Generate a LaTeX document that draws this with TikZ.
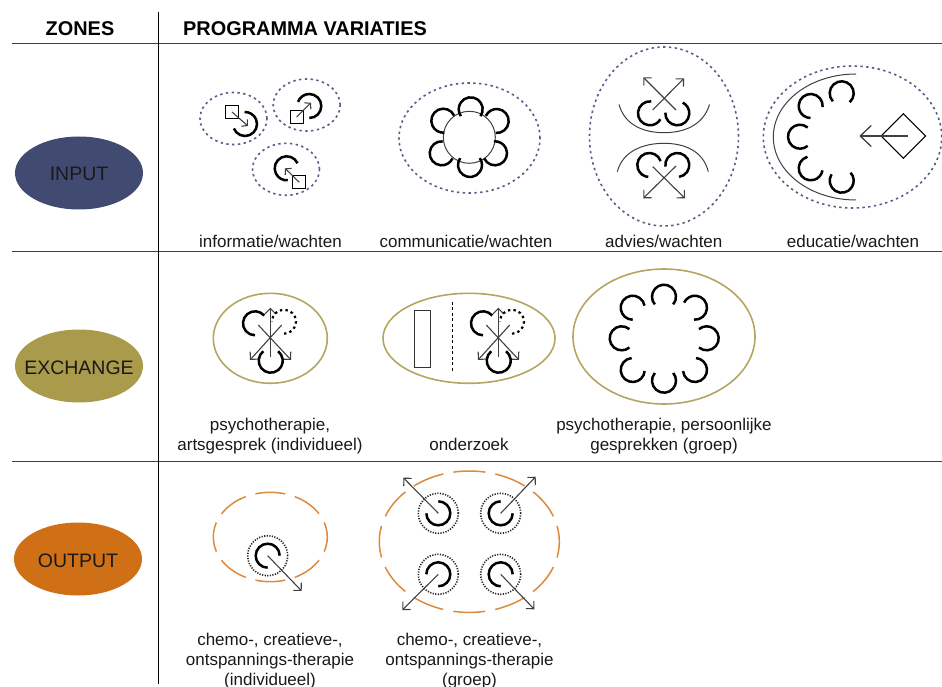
\documentclass[tikz,border=0pt]{standalone}
\usepackage{xcolor}
\usepackage{fontspec}
\setmainfont{Liberation Sans}
\usetikzlibrary{arrows.meta, shapes.geometric}

\definecolor{inputblue}{HTML}{414A70}
\definecolor{exchgold}{HTML}{AA9A4C}
\definecolor{outorange}{HTML}{CF7016}
\definecolor{dotblue}{HTML}{565D88}
\definecolor{linegold}{HTML}{B5A562}
\definecolor{lineorange}{HTML}{DC8A3E}

% open circle with a gap: centre x, y, gap direction, half gap
\newcommand\person[5][personarc]{
  \draw[#1] (#2,-#3) ++({#4+#5}:12pt) arc[start angle={#4+#5}, delta angle={360-2*(#5)}, radius=12pt];
}
% the same inside a dotted ring, with an arrow out of the centre
\newcommand\ringperson[6]{
  \draw[ringline] (#1,-#2) circle[radius=20pt];
  \person{#1}{#2}{#3}{#4}
  \draw[arrow] (#1,-#2) -- (#5,-#6);
}
% square with an arrow towards a person
\newcommand\squarearrow[4]{
  \node[infosquare] at (#1,-#2) {};
  \draw[arrow, >={Straight Barb[length=4pt,width=9pt]}] (#1,-#2) -- (#3,-#4);
}

\begin{document}
\begin{tikzpicture}[
  x=1pt, y=1pt,
  font=\fontsize{17}{20}\selectfont,
  zone/.style={ellipse, inner xsep=-15pt, inner ysep=0pt, minimum width=128pt, minimum height=73pt, text height=16pt, text depth=0pt, text=black!90, font=\fontsize{19.5}{22}\selectfont},
  head/.style={inner sep=0pt, anchor=base, font=\fontsize{19.9}{22}\selectfont\bfseries},
  caption/.style={inner sep=0pt, align=center, anchor=base, text=black!90},
  rule/.style={line width=0.9pt, black!75},
  waitline/.style={dotblue, line width=1.6pt, dash pattern=on 2.4pt off 3.4pt},
  exchline/.style={linegold, line width=1.6pt},
  outline/.style={lineorange, line width=1.5pt},
  personarc/.style={line width=2.5pt, black},
  persondot/.style={line width=2.2pt, black, dash pattern=on 2.4pt off 3.2pt},
  ringline/.style={line width=1.6pt, black!85, dash pattern=on 1.2pt off 1.4pt},
  arrow/.style={->, >={Straight Barb[length=5.5pt,width=11pt]}, line width=1.1pt, black!75},
  infosquare/.style={draw, line width=1.2pt, rectangle, inner sep=0pt, minimum size=13pt},
  thinline/.style={line width=1pt, black!75}
]
\useasboundingbox (0,0) rectangle (942,-687);

% Kop en lijnen
\node[head] (zones) at (80,-35.5) {ZONES};
\node[head, anchor=base west] (programs) at (183,-35.5) {PROGRAMMA VARIATIES};
\draw[rule] (12,-43.3) -- (942,-43.3);
\draw[rule] (12,-251) -- (942,-251);
\draw[rule] (12,-461) -- (942,-461);
\draw[line width=1pt, black] (158,-12) -- (158,-684);

% Zones
\node[zone, fill=inputblue] (input) at (79,-173) {INPUT};
\node[zone, fill=exchgold] (exchange) at (79,-366) {EXCHANGE};
\node[zone, fill=outorange] (output) at (78,-559) {OUTPUT};

% Informatie
\draw[waitline] (233.5,-118.5) ellipse[x radius=33.5pt, y radius=26pt];
\draw[waitline] (306.7,-105) ellipse[x radius=33.5pt, y radius=26pt];
\draw[waitline] (286,-169.3) ellipse[x radius=33.5pt, y radius=26pt];
\person{245}{124}{147}{55}
\person{309.3}{106}{-145}{55}
\person{286.7}{168.3}{-30}{55}
\squarearrow{232}{112}{248}{126}
\squarearrow{296.7}{117}{311}{102.7}
\squarearrow{299.3}{182.3}{285}{168.3}

% Communicatie
\draw[waitline] (469.5,-138) ellipse[x radius=70.5pt, y radius=55pt];
\draw[thinline] (469.3,-137.3) circle[radius=26pt];
\person{470.7}{109.3}{-90}{55}
\person{496.7}{121}{-150}{55}
\person{495}{153.3}{150}{55}
\person{470}{165}{90}{55}
\person{441.7}{153.3}{30}{55}
\person{443.3}{120.7}{-30}{55}

% Advies
\draw[waitline] (664,-136.5) ellipse[x radius=74.5pt, y radius=89.5pt];
\person{650}{113.3}{27}{57}
\person{677.3}{113.3}{120}{57}
\person{649.3}{165}{-38}{57}
\person{677.3}{165}{-127}{45}
\draw[arrow] (652.7,-110) -- (684,-78.3);
\draw[arrow] (676,-110) -- (643.3,-77.3);
\draw[arrow] (676,-166) -- (643.3,-198.3);
\draw[arrow] (652.7,-166.7) -- (685,-198.3);
\draw[thinline] (619,-104.5) .. controls (625,-126) and (645,-132.7) .. (664,-132.7) .. controls (683,-132.7) and (703,-126) .. (709.5,-104.5);
\draw[thinline] (617.3,-171.7) .. controls (623,-150) and (645,-143.3) .. (664,-143.3) .. controls (683,-143.3) and (703,-150) .. (708.3,-171.7);

% Educatie
\draw[waitline] (852.5,-137) ellipse[x radius=89.2pt, y radius=71pt];
\draw[thinline] (856,-74) arc[start angle=90, end angle=270, x radius=82.7pt, y radius=63pt];
\person{841.7}{93.3}{-93}{45}
\person{810.7}{106}{-48}{43}
\person{800}{136.7}{0}{50}
\person{810.7}{168.3}{48}{58}
\person{841.7}{180.7}{95}{53}
\node[diamond, draw, line width=1.1pt, inner sep=0pt, minimum size=45pt] (teacher) at (903.3,-136) {};
\draw[arrow, line width=1.3pt, >={Straight Barb[length=11pt,width=21pt]}] (908.3,-136) -- (859.3,-136);

% Exchange
\draw[exchline] (270.3,-338.3) ellipse[x radius=57pt, y radius=45pt];
\foreach \dx in {0,228}{
  \draw[arrow] (270.3+\dx,-356.7) -- (270.3+\dx,-307.7);
  \draw[arrow] (258.3+\dx,-325) -- (291+\dx,-360);
  \draw[arrow] (281.7+\dx,-325) -- (250+\dx,-360);
  \person{255+\dx}{323.3}{-25}{65}
  \person[persondot]{284+\dx}{321.7}{-135}{45}
  \person{270.7+\dx}{360.7}{90}{38}
}
\draw[exchline] (469,-338.3) ellipse[x radius=86pt, y radius=45pt];
\node[draw, line width=1.1pt, black!80, rectangle, inner sep=0pt, minimum width=16.4pt, minimum height=56.6pt] (screen) at (422.5,-339) {};
\draw[line width=1pt, dash pattern=on 3pt off 2.5pt] (452.3,-301.7) -- (452.3,-371.7);
\draw[exchline] (664,-336.5) ellipse[x radius=91pt, y radius=67.5pt];
\person{664}{296.7}{-90}{50}
\person{695}{307.7}{-150}{55}
\person{706.7}{338.3}{180}{50}
\person{695}{370}{135}{50}
\person{664}{380.7}{90}{50}
\person{632.7}{370}{45}{50}
\person{621.7}{338.3}{0}{50}
\person{632.7}{307.7}{-40}{50}

% Output
\draw[outline, dash pattern=on 30pt off 10.08pt, dash phase=15pt] (270.3,-537) ellipse[x radius=57pt, y radius=44.7pt];
\ringperson{267.7}{555.7}{-45}{45}{301.7}{591}
\draw[outline, dash pattern=on 32pt off 10.22pt, dash phase=16pt] (469.3,-541.7) ellipse[x radius=90pt, y radius=70.7pt];
\ringperson{438.3}{513.3}{135}{45}{403.3}{477.7}
\ringperson{500.7}{513.3}{45}{45}{535.7}{476.7}
\ringperson{438.3}{574.3}{-135}{45}{402.3}{610}
\ringperson{500.7}{574.3}{-45}{45}{534.3}{609.3}

% Teksten
\node[caption] (info) at (270.5,-247.5) {informatie/wachten};
\node[caption] (comm) at (466,-247.5) {communicatie/wachten};
\node[caption] (advice) at (663.8,-247.5) {advies/wachten};
\node[caption] (edu) at (853,-247.5) {educatie/wachten};
\node[caption] (psycho) at (270,-450.8) {psychotherapie,\\artsgesprek (individueel)};
\node[caption] (research) at (469,-450.8) {onderzoek};
\node[caption] (group) at (664,-450.8) {psychotherapie, persoonlijke\\gesprekken (groep)};
\node[caption] (chemoone) at (270,-685.5) {chemo-, creatieve-,\\ontspannings-therapie\\(individueel)};
\node[caption] (chemotwo) at (469.5,-685.5) {chemo-, creatieve-,\\ontspannings-therapie\\(groep)};

\end{tikzpicture}
\end{document}
